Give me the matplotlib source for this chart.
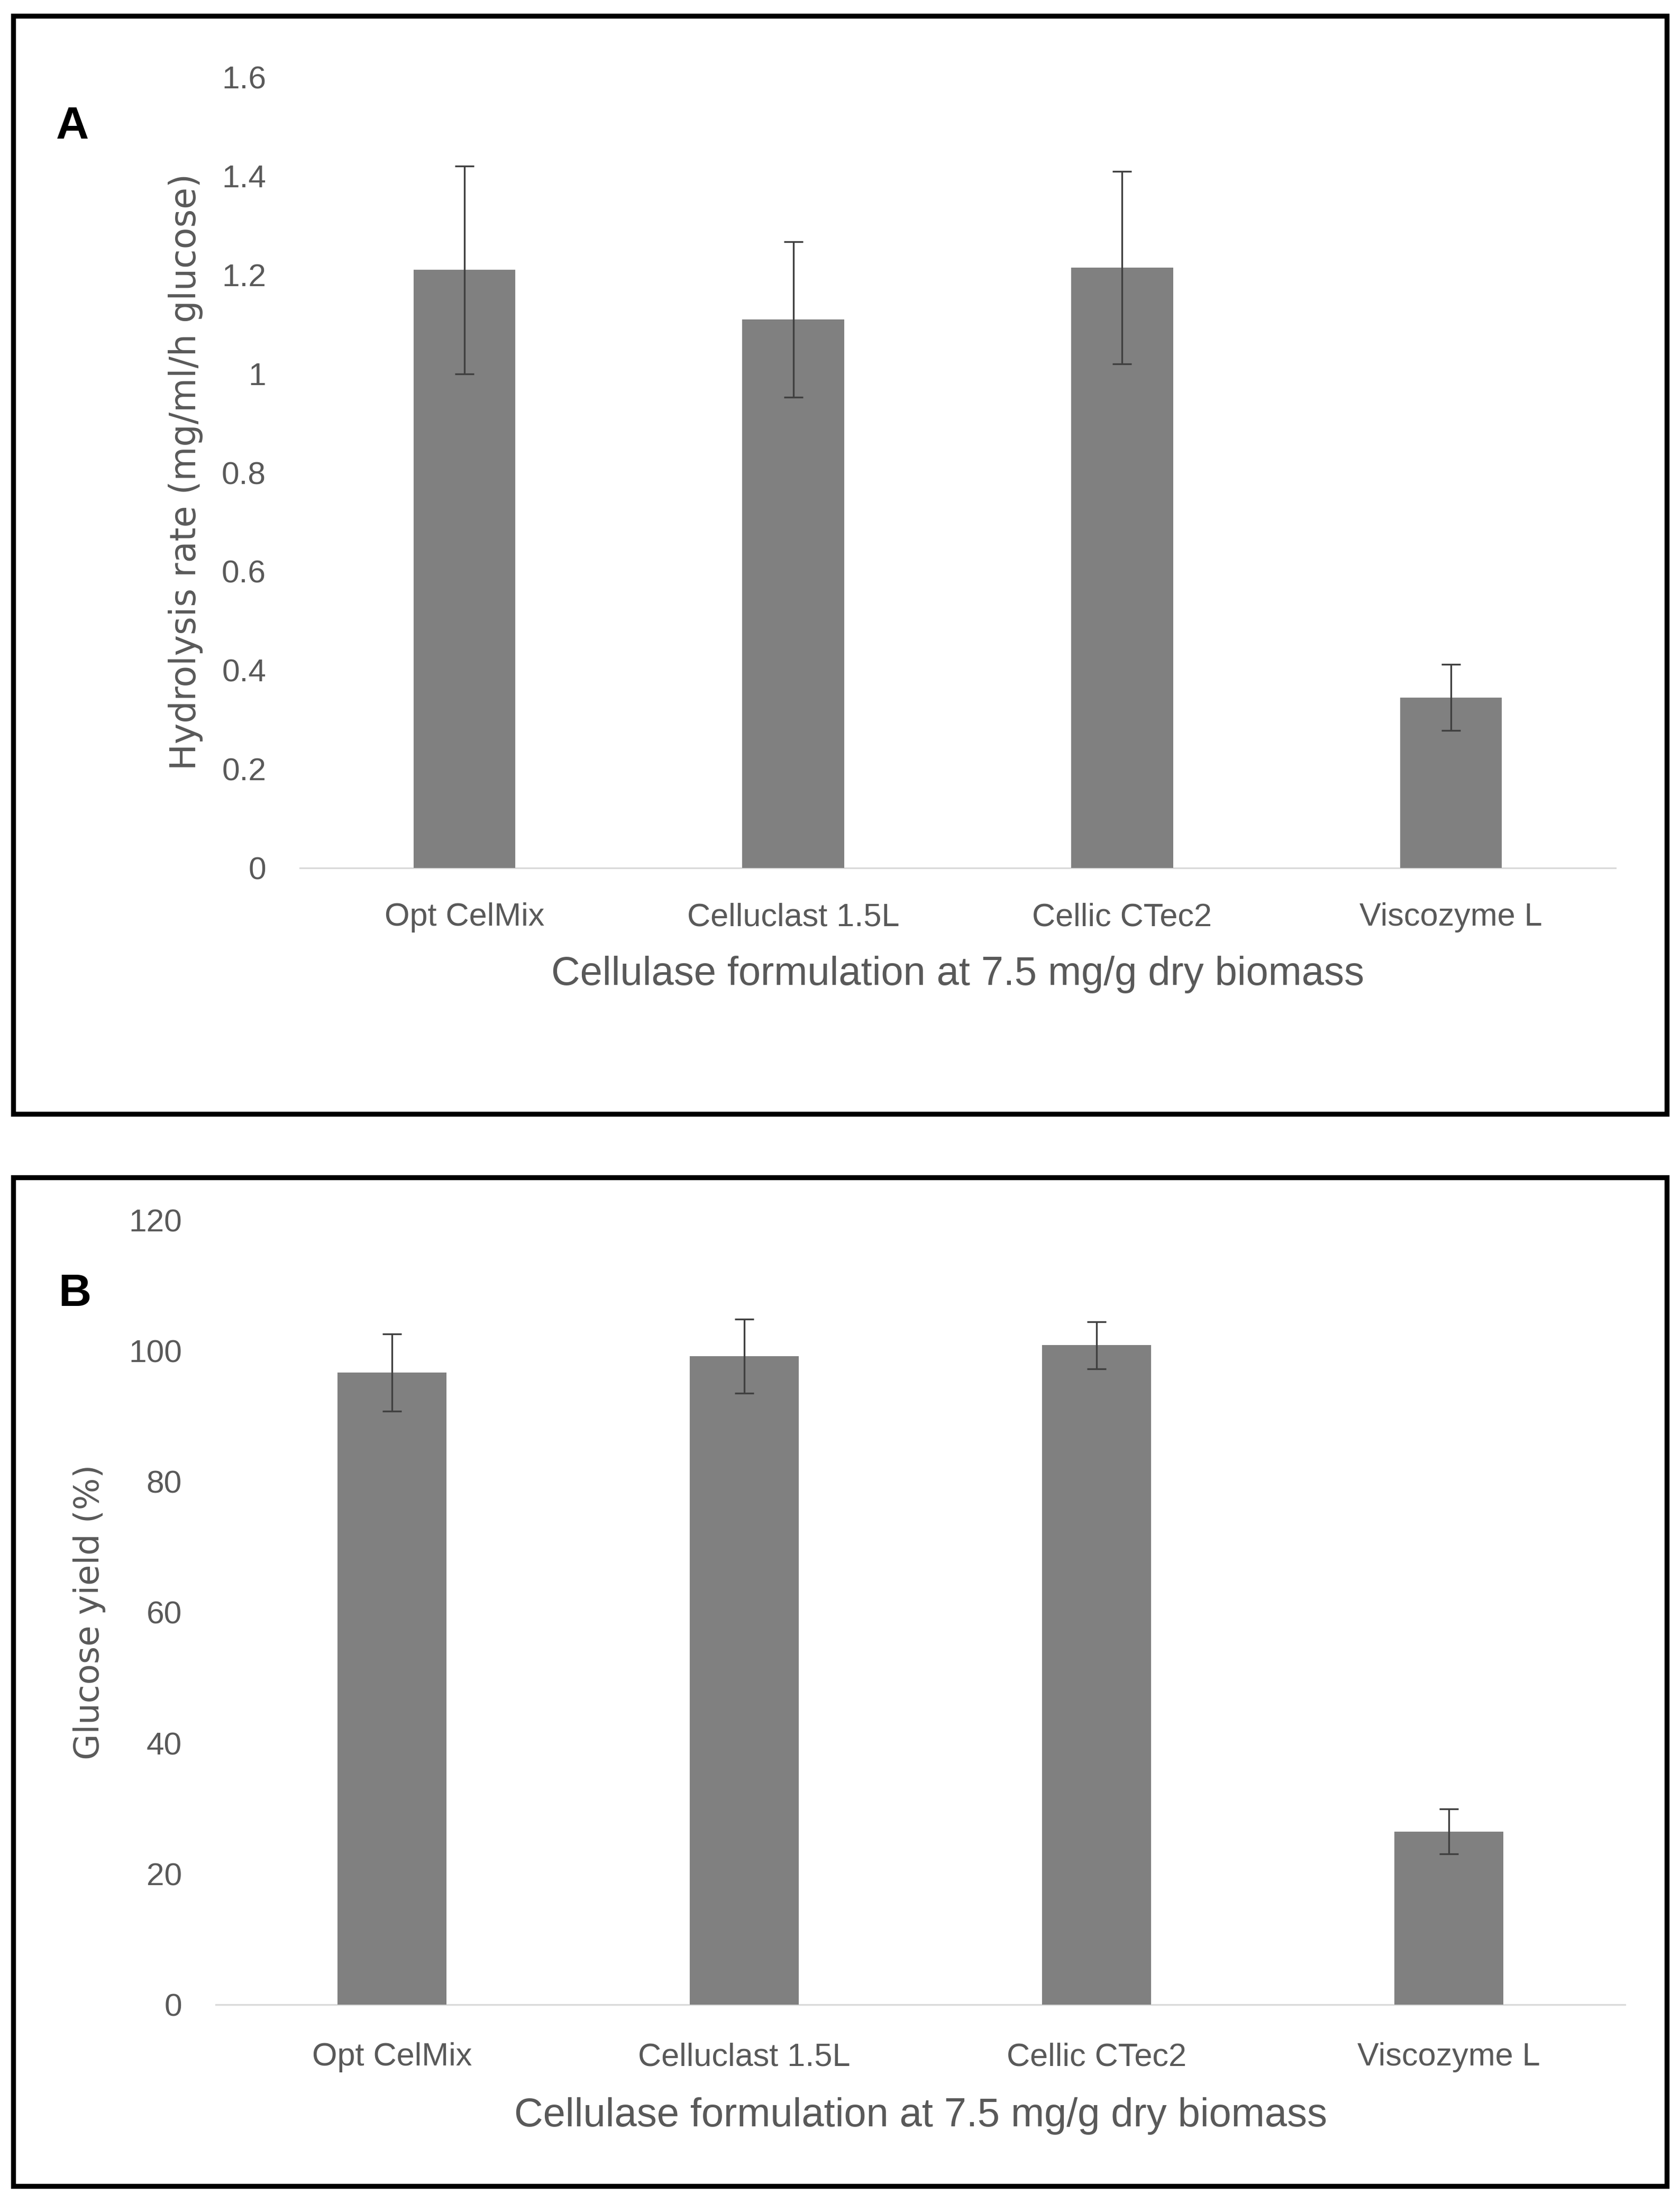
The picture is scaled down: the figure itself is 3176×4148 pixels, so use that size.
import matplotlib
matplotlib.use("Agg")
import matplotlib.pyplot as plt
import matplotlib.transforms as mtransforms
from matplotlib.patches import Rectangle
import numpy as np

categories = ["Opt CelMix", "Celluclast 1.5L", "Cellic CTec2", "Viscozyme L"]
rate_values = [1.21, 1.11, 1.215, 0.345]
rate_errors = [0.21, 0.157, 0.195, 0.067]
yield_values = [96.7, 99.2, 100.9, 26.5]
yield_errors = [5.9, 5.7, 3.6, 3.4]
rate_ticks = [0, 0.2, 0.4, 0.6, 0.8, 1, 1.2, 1.4, 1.6]
rate_ticklabels = ["0", "0.2", "0.4", "0.6", "0.8", "1", "1.2", "1.4", "1.6"]
yield_ticks = [0, 20, 40, 60, 80, 100, 120]
yield_ticklabels = ["0", "20", "40", "60", "80", "100", "120"]
xlabel_text = "Cellulase formulation at 7.5 mg/g dry biomass"

W, H = 3176, 4148
DPI = 100
fig = plt.figure(figsize=(W / DPI, H / DPI), dpi=DPI)
fig.patch.set_facecolor("white")

SANS = ["Liberation Sans", "DejaVu Sans"]
WIDE = ["DejaVu Sans"]
GRAY_TXT = "#595959"
BAR = "#808080"
ERR = "#404040"


def fx(px):
    return px / W


def fy(py):
    return 1 - py / H


def panel(ax_box, values, errors, ticks, ticklabels, ylabel, ylabel_size,
          tick_base, xlab_base, ylab_xy, lab_xy, letter, frame):
    x0, y0, x1, y1 = frame
    fig.patches.append(Rectangle((fx(x0), fy(y1)), fx(x1 - x0), (y1 - y0) / H,
                                 transform=fig.transFigure, fill=False,
                                 edgecolor="black", linewidth=6.8, zorder=0))
    l, t, r, b = ax_box
    ax = fig.add_axes([fx(l), fy(b), fx(r - l), (b - t) / H])
    x = np.arange(len(categories))
    ax.bar(x, values, width=0.31, color=BAR, zorder=2)
    ax.errorbar(x, values, yerr=errors, fmt="none", ecolor=ERR, elinewidth=2.4,
                capsize=13, capthick=2.4, zorder=3)
    ax.set_xlim(-0.5, len(categories) - 0.5)
    ax.set_ylim(ticks[0], ticks[-1])
    ax.set_yticks(ticks)
    ax.set_yticklabels(ticklabels, fontsize=43.5, color=GRAY_TXT, family=SANS)
    ax.set_xticks(x)
    ax.set_xticklabels([])
    for s in ["top", "right", "left"]:
        ax.spines[s].set_visible(False)
    ax.spines["bottom"].set_color("#d9d9d9")
    ax.spines["bottom"].set_linewidth(2.2)
    ax.spines["bottom"].set_zorder(1)
    ax.tick_params(axis="y", length=0, pad=46)
    ax.tick_params(axis="x", length=0)
    trans = mtransforms.blended_transform_factory(ax.transData, fig.transFigure)
    for xi, c in zip(x, categories):
        ax.text(xi, fy(tick_base), c, transform=trans, ha="center", va="baseline",
                fontsize=44, color=GRAY_TXT, family=SANS)
    fig.text(fx((l + r) / 2), fy(xlab_base), xlabel_text, ha="center", va="baseline",
             fontsize=54.5, color=GRAY_TXT, family=SANS)
    fig.text(fx(ylab_xy[0]), fy(ylab_xy[1]), ylabel, ha="center", va="center",
             rotation=90, fontsize=ylabel_size, color=GRAY_TXT, family=WIDE)
    fig.text(fx(lab_xy[0]), fy(lab_xy[1]), letter, ha="left", va="center",
             fontsize=62, fontweight="bold", color="black", family=SANS)
    return ax


panel((567, 146, 3054, 1641), rate_values, rate_errors, rate_ticks, rate_ticklabels,
      "Hydrolysis rate (mg/ml/h glucose)", 48, 1750, 1862, (351, 892), (106, 240), "A",
      (25, 30, 3151, 2106))

panel((408, 2307, 3072, 3790), yield_values, yield_errors, yield_ticks, yield_ticklabels,
      "Glucose yield (%)", 46, 3905, 4020, (169, 3048), (110, 2447), "B",
      (25, 2226, 3151, 4133))

fig.savefig("out.png", dpi=DPI, facecolor="white")
